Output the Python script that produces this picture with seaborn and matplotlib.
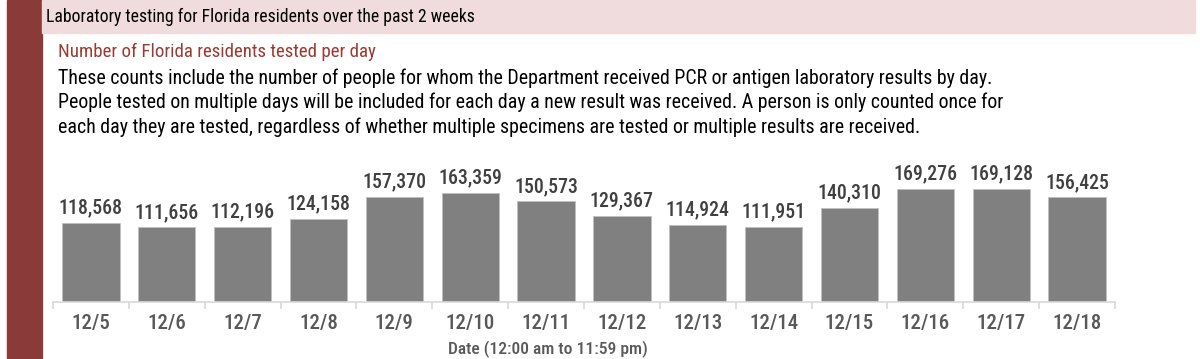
import matplotlib
matplotlib.use("Agg")
import matplotlib.pyplot as plt
import seaborn as sns
import pandas as pd
import numpy as np
from matplotlib import font_manager as fm
from matplotlib.patches import Rectangle

dates = ["12/5", "12/6", "12/7", "12/8", "12/9", "12/10", "12/11",
         "12/12", "12/13", "12/14", "12/15", "12/16", "12/17", "12/18"]
tested = [118568, 111656, 112196, 124158, 157370, 163359, 150573,
          129367, 114924, 111951, 140310, 169276, 169128, 156425]

sns.set_theme(style="white")
names = {f.name for f in fm.fontManager.ttflist}
fam = "DejaVu Sans"
for cand in ["Liberation Sans Narrow", "Roboto Condensed", "Open Sans Condensed", "Liberation Sans"]:
    if cand in names:
        fam = cand
        break
plt.rcParams["font.family"] = [fam, "DejaVu Sans"]

W, H = 1200, 359
fig = plt.figure(figsize=(W / 100, H / 100), dpi=100)

def fx(x): return x / W
def fy(y): return 1 - y / H

fig.patches.append(Rectangle((fx(7), 0), fx(42) - fx(7), 1, transform=fig.transFigure,
                             color="#8B3A3A", zorder=0))
fig.patches.append(Rectangle((fx(42), fy(33)), fx(1195) - fx(42), fy(0) - fy(33),
                             transform=fig.transFigure, color="#F0DCDC", zorder=0))

fig.text(fx(46), fy(17), "Laboratory testing for Florida residents over the past 2 weeks",
         fontsize=12.7, color="black", va="center", ha="left")
fig.text(fx(58), fy(52), "Number of Florida residents tested per day",
         fontsize=13.6, color="#9B3A32", va="center", ha="left")
body = ["These counts include the number of people for whom the Department received PCR or antigen laboratory results by day.",
        "People tested on multiple days will be included for each day a new result was received. A person is only counted once for",
        "each day they are tested, regardless of whether multiple specimens are tested or multiple results are received."]
for i, line in enumerate(body):
    fig.text(fx(58), fy(78 + i * 24.5), line, fontsize=14.3, color="black", va="center", ha="left")

ax = fig.add_axes([fx(53), fy(302), fx(1115) - fx(53), fy(160) - fy(302)])
df = pd.DataFrame({"date": dates, "tested": tested})
sns.barplot(data=df, x="date", y="tested", color="#808080", saturation=1, width=0.755,
            ax=ax, edgecolor="#BFBFBF", linewidth=0.6)
ax.set_ylim(0, 212500)
ax.set_xlim(-0.5, len(dates) - 0.5)
for c in ax.containers:
    ax.bar_label(c, labels=[f"{v:,}" for v in tested], padding=4, fontsize=14.2,
                 color="#404040", fontweight="medium")
for s in ["top", "right", "left"]:
    ax.spines[s].set_visible(False)
ax.spines["bottom"].set_color("#D9D9D9")
ax.spines["bottom"].set_linewidth(1.2)
ax.set_yticks([])
ax.set_ylabel("")
ax.set_xticks(range(len(dates)))
ax.set_xticklabels(dates, fontsize=15, color="#595959", fontweight="medium")
ax.tick_params(axis="x", which="major", length=0, pad=9)
ax.set_xticks(np.arange(-0.5, len(dates), 1), minor=True)
ax.tick_params(axis="x", which="minor", length=5, width=1.2, color="#D9D9D9", bottom=True)
ax.set_xlabel("")
fig.text(fx(548), fy(349), "Date (12:00 am to 11:59 pm)", fontsize=12.6, color="#595959",
         va="center", ha="center", fontweight="medium")
ax.patch.set_alpha(0)

fig.savefig("out.png", dpi=100)
